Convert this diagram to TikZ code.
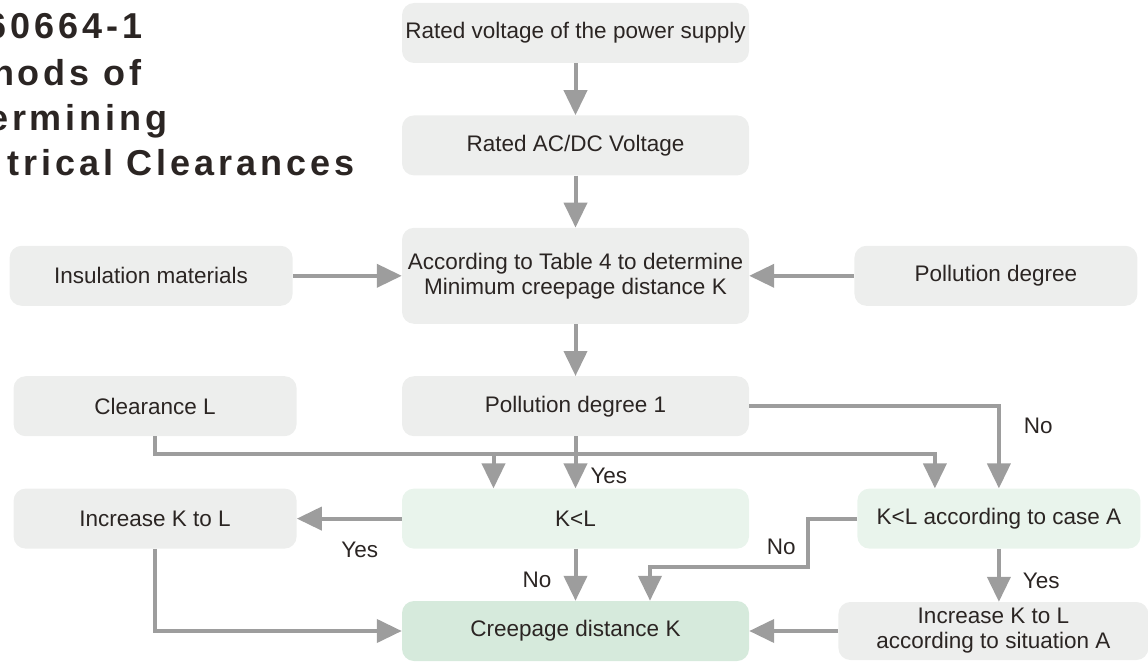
\documentclass[tikz,border=0pt]{standalone}
\usepackage{fontspec}
\setmainfont{Liberation Sans}
\usepackage{tikz}
\usetikzlibrary{
  arrows.meta,
  positioning,
  calc
}
\definecolor{ccBox}{HTML}{EDEEED}
\definecolor{ccTest}{HTML}{E9F4EC}
\definecolor{ccDone}{HTML}{D6EADC}
\definecolor{ccLine}{HTML}{9D9D9D}
\definecolor{ccText}{HTML}{2B2523}
\tikzset{
  ccnode/.style={
    rounded corners=12pt, minimum height=60pt, inner sep=2pt,
    align=center, text=ccText, font=\fontsize{22.5}{25}\selectfont
  },
  ccbox/.style={ccnode, fill=ccBox},
  midbox/.style={ccbox, minimum width=347pt},
  sidebox/.style={ccbox, minimum width=283pt},
  testbox/.style={ccnode, fill=ccTest},
  donebox/.style={ccnode, fill=ccDone},
  flow/.style={-{Triangle[length=25pt, width=23pt]}, line width=4pt, ccLine},
  ans/.style={font=\fontsize{22.5}{25}\selectfont, text=ccText, inner sep=0pt},
  headline/.style={font=\fontsize{36}{41}\bfseries\addfontfeatures{LetterSpace=11}, text=ccText, inner sep=0pt, anchor=base east}
}

\begin{document}
\begin{tikzpicture}[x=1pt, y=-1pt, node distance=52pt and 105pt]
  \useasboundingbox (0,0) rectangle (1148,661);
  % heading, cut off by the left edge
  \begin{scope}
    \clip (0,0) rectangle (1148,661);
    \node[headline] (hd1) at (143,39) {60664-1};
    \node[headline] (hd2) at (142,85) {hods of};
    \node[headline] (hd3) at (168,130) {ermining};
    \node[headline] (hd4) at (355,175) {trical Clearances};
  \end{scope}
  % main column
  \node[midbox] (supply) at (575.5,33) {Rated voltage of the power supply};
  \node[midbox, below=of supply] (acdc) {Rated AC/DC Voltage};
  \node[midbox, minimum height=96pt, below=of acdc] (table) {According to Table 4 to determine\\Minimum creepage distance K};
  \node[midbox, below=of table] (pd1) {Pollution degree 1};
  \node[testbox, minimum width=347pt, below=of pd1] (kl) {K<L};
  \node[donebox, minimum width=347pt, below=of kl] (cre) {Creepage distance K};
  % side columns
  \node[sidebox, left=109pt of table] (insul) {Insulation materials};
  \node[sidebox, right=of table] (poll) {Pollution degree};
  \node[sidebox, left=of pd1] (clr) {Clearance L};
  \node[sidebox, left=of kl] (inc) {Increase K to L};
  \node[testbox, minimum width=283pt, right=108pt of kl] (klA) {K<L according to case A};
  \node[ccbox, minimum width=310pt, minimum height=58pt, right=89pt of cre] (incA) {Increase K to L\\according to situation A};
  \foreach \s/\e in {supply/acdc, acdc/table, table/pd1, insul/table, poll/table, incA/cre}{\draw[flow] (\s) -- (\e);}
  \draw[flow] (pd1) -- node[ans, pos=0.75, right=13pt] {Yes} (kl);
  \draw[flow] (kl) -- node[ans, pos=0.6, left=22pt] {No} (cre);
  \draw[flow] (kl) -- node[ans, pos=0.4, below=21pt] {Yes} (inc);
  \draw[flow] (pd1.east) -| node[ans, pos=0.62, right=23pt] {No} (klA.north);
  \draw[flow] (klA.south) -- node[ans, pos=0.6, right=22pt] {Yes} (klA.south |- incA.north);
  \draw[flow] (inc.south) |- (cre.west);
  % clearance L feeds both comparisons
  \coordinate (bus) at ($(clr.south)+(0,18)$);
  \coordinate (klin) at ($(kl.north)+(-82,0)$);
  \coordinate (klAin) at ($(klA.north)+(-64,0)$);
  \draw[flow] (clr.south) -- (bus) -| (klAin);
  \draw[flow] (bus -| klin) -- (klin);
  % case A "No" goes round to creepage distance
  \coordinate (noA) at ($(cre.north)+(74.5,0)$);
  \draw[flow] (klA.west) -- ++(-49,0) |- ($(noA)+(0,-34)$) -- (noA);
  \node[ans] (noAlbl) at ($(klA.west)+(-76,28)$) {No};
\end{tikzpicture}
\end{document}
